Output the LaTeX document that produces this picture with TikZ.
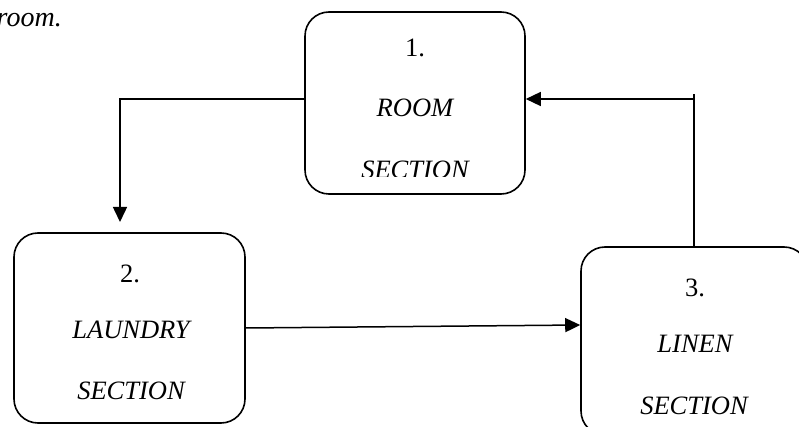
\documentclass[tikz,border=0pt]{standalone}
\usepackage{fontspec}
\setmainfont{Liberation Serif}
\usetikzlibrary{arrows.meta}
\begin{document}
\begin{tikzpicture}[x=1pt,y=-1pt,
  box/.style={draw=black,line width=1.6pt,rounded corners=24pt,inner sep=0pt},
  lbl/.style={font=\fontsize{26.5}{30}\selectfont\itshape,inner sep=0pt,anchor=base},
  num/.style={font=\fontsize{26.5}{30}\selectfont,inner sep=0pt,anchor=base},
  conn/.style={draw=black,line width=1.5pt},
  arr/.style={conn,-{Triangle[length=15pt,width=14pt]}}]
\useasboundingbox (0,0) rectangle (799,427);
\clip (0,0) rectangle (799,427);
% top-left fragment
\node[lbl,anchor=base east,font=\fontsize{28}{32}\selectfont\itshape] (frag) at (62,27) {room.};
% boxes
\node[box,minimum width=220pt,minimum height=182pt] (b1) at (415,103) {};
\node[box,minimum width=231pt,minimum height=190pt] (b2) at (129.5,328) {};
\node[box,minimum width=227pt,minimum height=188pt] (b3) at (694.5,341) {};
% box 1 texts
\node[num] (t1a) at (415,57) {1.};
\node[lbl] (t1b) at (415,117) {ROOM};
\begin{scope}
\clip (300,100) rectangle (530,176.5);
\node[lbl] (t1c) at (415,179) {SECTION};
\end{scope}
% box 2 texts
\node[num] (t2a) at (130,282) {2.};
\node[lbl] (t2b) at (131,338) {LAUNDRY};
\node[lbl] (t2c) at (131,399) {SECTION};
% box 3 texts
\node[num] (t3a) at (695,296) {3.};
\node[lbl] (t3b) at (695,352) {LINEN};
\node[lbl] (t3c) at (694,414) {SECTION};
% connectors
\coordinate (c1) at (120,99);
\coordinate (c2) at (120,222);
\draw[arr] (b1.west |- c1) -- (c1) -- (c2);
\coordinate (c3) at (0,328);
\coordinate (c4) at (0,325);
\draw[arr] (b2.east |- c3) -- (b3.west |- c4);
\coordinate (c5) at (694,94);
\coordinate (c6) at (694,99);
\draw[conn] (b3.north -| c5) -- (c5);
\draw[arr] (c6) -- (b1.east |- c6);
\end{tikzpicture}
\end{document}
